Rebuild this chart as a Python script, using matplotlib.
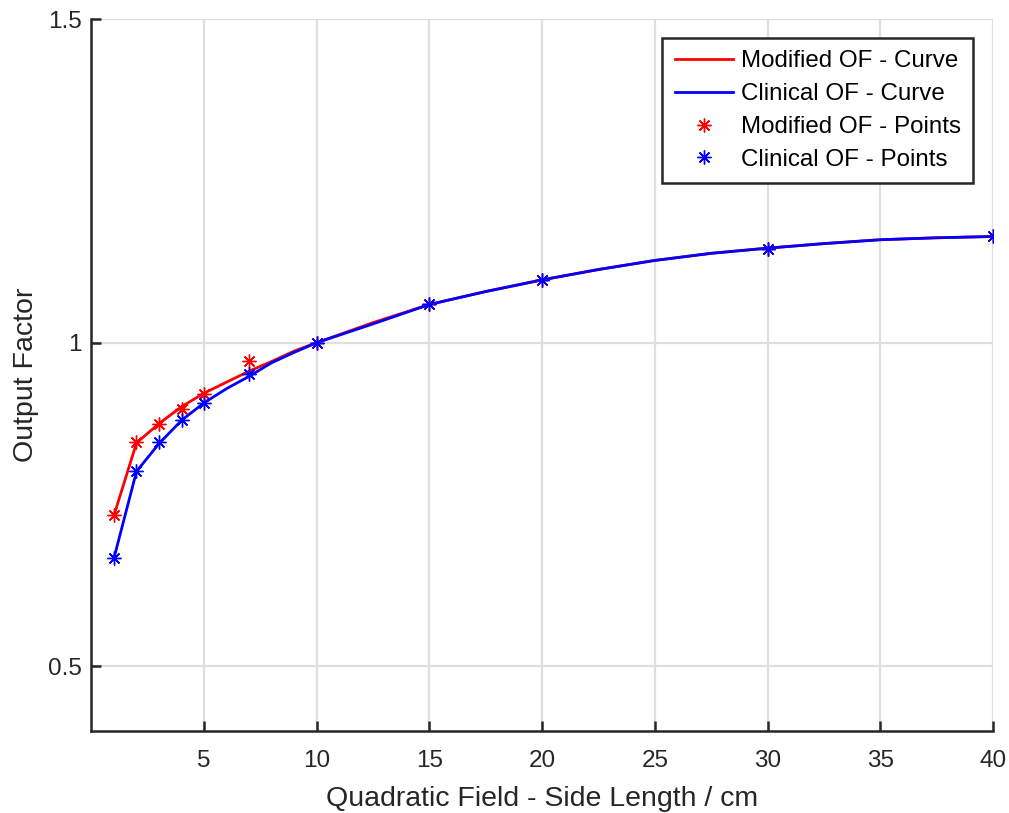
import matplotlib.pyplot as plt

# valores
x_curva = [1, 2, 3, 4, 5, 6, 7, 8, 9, 10, 12.5, 15, 17.5, 20, 22.5, 25, 27.5, 30, 32.5, 35, 37.5, 40]
of_mod_curva = [0.733, 0.845, 0.875, 0.901, 0.922, 0.939, 0.956, 0.971, 0.987, 1.0, 1.031, 1.059,
                1.079, 1.097, 1.113, 1.127, 1.138, 1.146, 1.153, 1.159, 1.162, 1.164]
of_clin_curva = [0.667, 0.801, 0.844, 0.880, 0.907, 0.929, 0.948, 0.969, 0.985, 1.0, 1.029, 1.059,
                 1.079, 1.097, 1.113, 1.127, 1.138, 1.146, 1.153, 1.159, 1.162, 1.164]

x_pontos = [1, 2, 3, 4, 5, 7, 10, 15, 20, 30, 40]
of_mod_pontos = [0.733, 0.847, 0.875, 0.898, 0.921, 0.971, 1.0, 1.059, 1.097, 1.145, 1.164]
of_clin_pontos = [0.667, 0.802, 0.846, 0.880, 0.906, 0.951, 1.0, 1.059, 1.097, 1.145, 1.164]

x_ticks = [5, 10, 15, 20, 25, 30, 35, 40]
y_ticks = [0.5, 1, 1.5]
y_ticklabels = ['0.5', '1', '1.5']

plt.rcParams['font.family'] = 'Liberation Sans'

fig = plt.figure(figsize=(10.09, 8.13), dpi=100)
ax = fig.add_axes([0.0906, 0.1009, 0.8935, 0.8757])

cinza = '#262626'
asterisco = (8, 2, 0)

ax.plot(x_curva, of_mod_curva, color='#ff0000', lw=2.0, label='Modified OF - Curve', zorder=3)
ax.plot(x_curva, of_clin_curva, color='#0000ff', lw=2.0, label='Clinical OF - Curve', zorder=3)
ax.plot(x_pontos, of_mod_pontos, ls='none', marker=asterisco, color='#ff0000', ms=10, mew=1.0,
        label='Modified OF - Points', zorder=4)
ax.plot(x_pontos, of_clin_pontos, ls='none', marker=asterisco, color='#0000ff', ms=10, mew=1.0,
        label='Clinical OF - Points', zorder=4)

ax.set_xlim(0, 40)
ax.set_ylim(0.4, 1.5)
ax.set_xticks(x_ticks)
ax.set_yticks(y_ticks)
ax.set_yticklabels(y_ticklabels)

ax.grid(True, color='#dfdfdf', lw=1.6)
ax.set_axisbelow(True)

for lado in ['top', 'right']:
    ax.spines[lado].set_visible(False)
for lado in ['left', 'bottom']:
    ax.spines[lado].set_color(cinza)
    ax.spines[lado].set_linewidth(1.8)

ax.tick_params(direction='in', length=7.5, width=1.8, color=cinza, labelcolor=cinza, labelsize=17.5)
ax.tick_params(axis='x', pad=14)
ax.tick_params(axis='y', pad=7)

ax.set_xlabel('Quadratic Field - Side Length / cm', fontsize=20.5, color=cinza, labelpad=10)
ax.set_ylabel('Output Factor', fontsize=20.5, color=cinza, labelpad=6)

leg = ax.legend(loc='upper right', bbox_to_anchor=(0.978, 0.973), fancybox=False, framealpha=1,
                edgecolor=cinza, fontsize=17.4, handlelength=2.4, borderpad=0.5,
                labelspacing=0.45, handletextpad=0.35, borderaxespad=0)
leg.get_frame().set_linewidth(1.8)

fig.savefig('out.png', dpi=100)
